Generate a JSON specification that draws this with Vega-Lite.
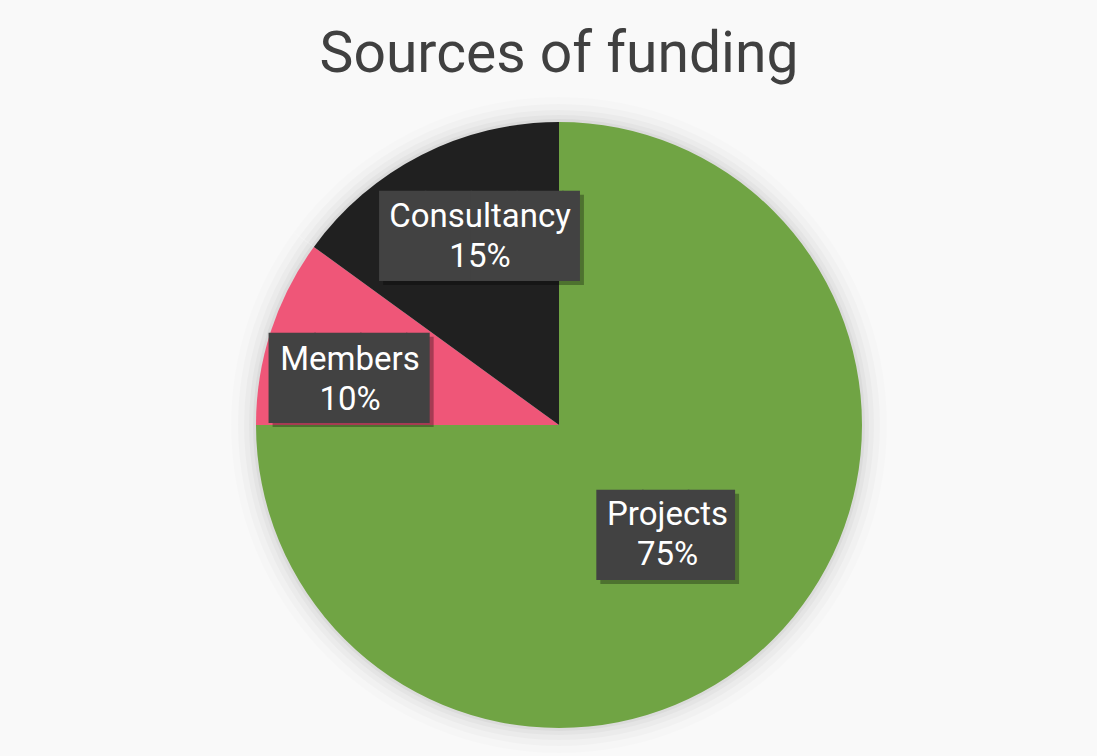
{
  "$schema": "https://vega.github.io/schema/vega-lite/v6.json",
  "width": 606,
  "height": 606,
  "autosize": {"type": "none"},
  "padding": {"left": 256, "top": 122, "right": 235, "bottom": 28},
  "background": "#f9f9f9",
  "title": {
    "text": "Sources of funding",
    "font": "Roboto",
    "fontSize": 57,
    "fontWeight": "normal",
    "color": "#404040",
    "offset": 13
  },
  "config": {"view": {"stroke": null}},
  "data": {
    "values": [
      {"source": "Projects", "share": 0.75, "rank": 1},
      {"source": "Members", "share": 0.10, "rank": 2},
      {"source": "Consultancy", "share": 0.15, "rank": 3}
    ]
  },
  "encoding": {
    "theta": {"field": "share", "type": "quantitative", "stack": true},
    "order": {"field": "rank", "type": "quantitative"}
  },
  "layer": [
    {"mark": {"type": "arc", "outerRadius": 328, "color": "#000000", "opacity": 0.012}},
    {"mark": {"type": "arc", "outerRadius": 321, "color": "#000000", "opacity": 0.018}},
    {"mark": {"type": "arc", "outerRadius": 315, "color": "#000000", "opacity": 0.022}},
    {"mark": {"type": "arc", "outerRadius": 310, "color": "#000000", "opacity": 0.028}},
    {"mark": {"type": "arc", "outerRadius": 306, "color": "#000000", "opacity": 0.035}},
    {
      "mark": {"type": "arc", "outerRadius": 303},
      "encoding": {
        "color": {
          "field": "source",
          "type": "nominal",
          "scale": {"domain": ["Projects", "Members", "Consultancy"], "range": ["#70a444", "#ef5678", "#202020"]},
          "legend": null
        }
      }
    },
    {
      "encoding": {
        "theta": {"field": "share", "type": "quantitative", "stack": true,
          "scale": {"type": "linear", "zero": false, "nice": false, "domain": [0, 0.375, 0.8, 0.925, 1], "range": [0, 2.3834, 4.9310, 5.9476, 6.2832]}},
        "radius": {"field": "share", "type": "quantitative",
          "scale": {"type": "linear", "zero": false, "nice": false, "domain": [0.10, 0.15, 0.75], "range": [202.9, 196.5, 155.6]}},
        "text": {"condition": [
          {"test": "datum.source === 'Consultancy'", "value": "████▍"},
          {"test": "datum.source === 'Members'", "value": "███▌"}
        ], "value": "███"},
        "size": {"value": 76}
      },
      "layer": [
        {"mark": {"type": "text", "font": "DejaVu Sans Mono", "align": "center", "baseline": "middle", "color": "#000000", "opacity": 0.3, "dx": 4, "dy": 4}},
        {"mark": {"type": "text", "font": "DejaVu Sans Mono", "align": "center", "baseline": "middle", "color": "#424242"}}
      ]
    },
    {
      "encoding": {
        "theta": {"field": "share", "type": "quantitative", "stack": true,
          "scale": {"type": "linear", "zero": false, "nice": false, "domain": [0, 0.375, 0.8, 0.925, 1], "range": [0, 2.3539, 4.9358, 5.8891, 6.2832]}},
        "radius": {"field": "share", "type": "quantitative",
          "scale": {"type": "linear", "zero": false, "nice": false, "domain": [0.10, 0.15, 0.75], "range": [214.3, 205.8, 153.1]}}
      },
      "layer": [
        {
          "mark": {"type": "text", "font": "Roboto", "fontSize": 33, "align": "center", "baseline": "alphabetic", "color": "#ffffff", "dy": -8},
          "encoding": {"text": {"field": "source", "type": "nominal"}}
        },
        {
          "mark": {"type": "text", "font": "Roboto", "fontSize": 33, "align": "center", "baseline": "alphabetic", "color": "#ffffff", "dy": 32},
          "encoding": {"text": {"field": "share", "type": "quantitative", "format": ".0%"}}
        }
      ]
    }
  ],
  "resolve": {"scale": {"theta": "independent", "radius": "independent"}}
}
